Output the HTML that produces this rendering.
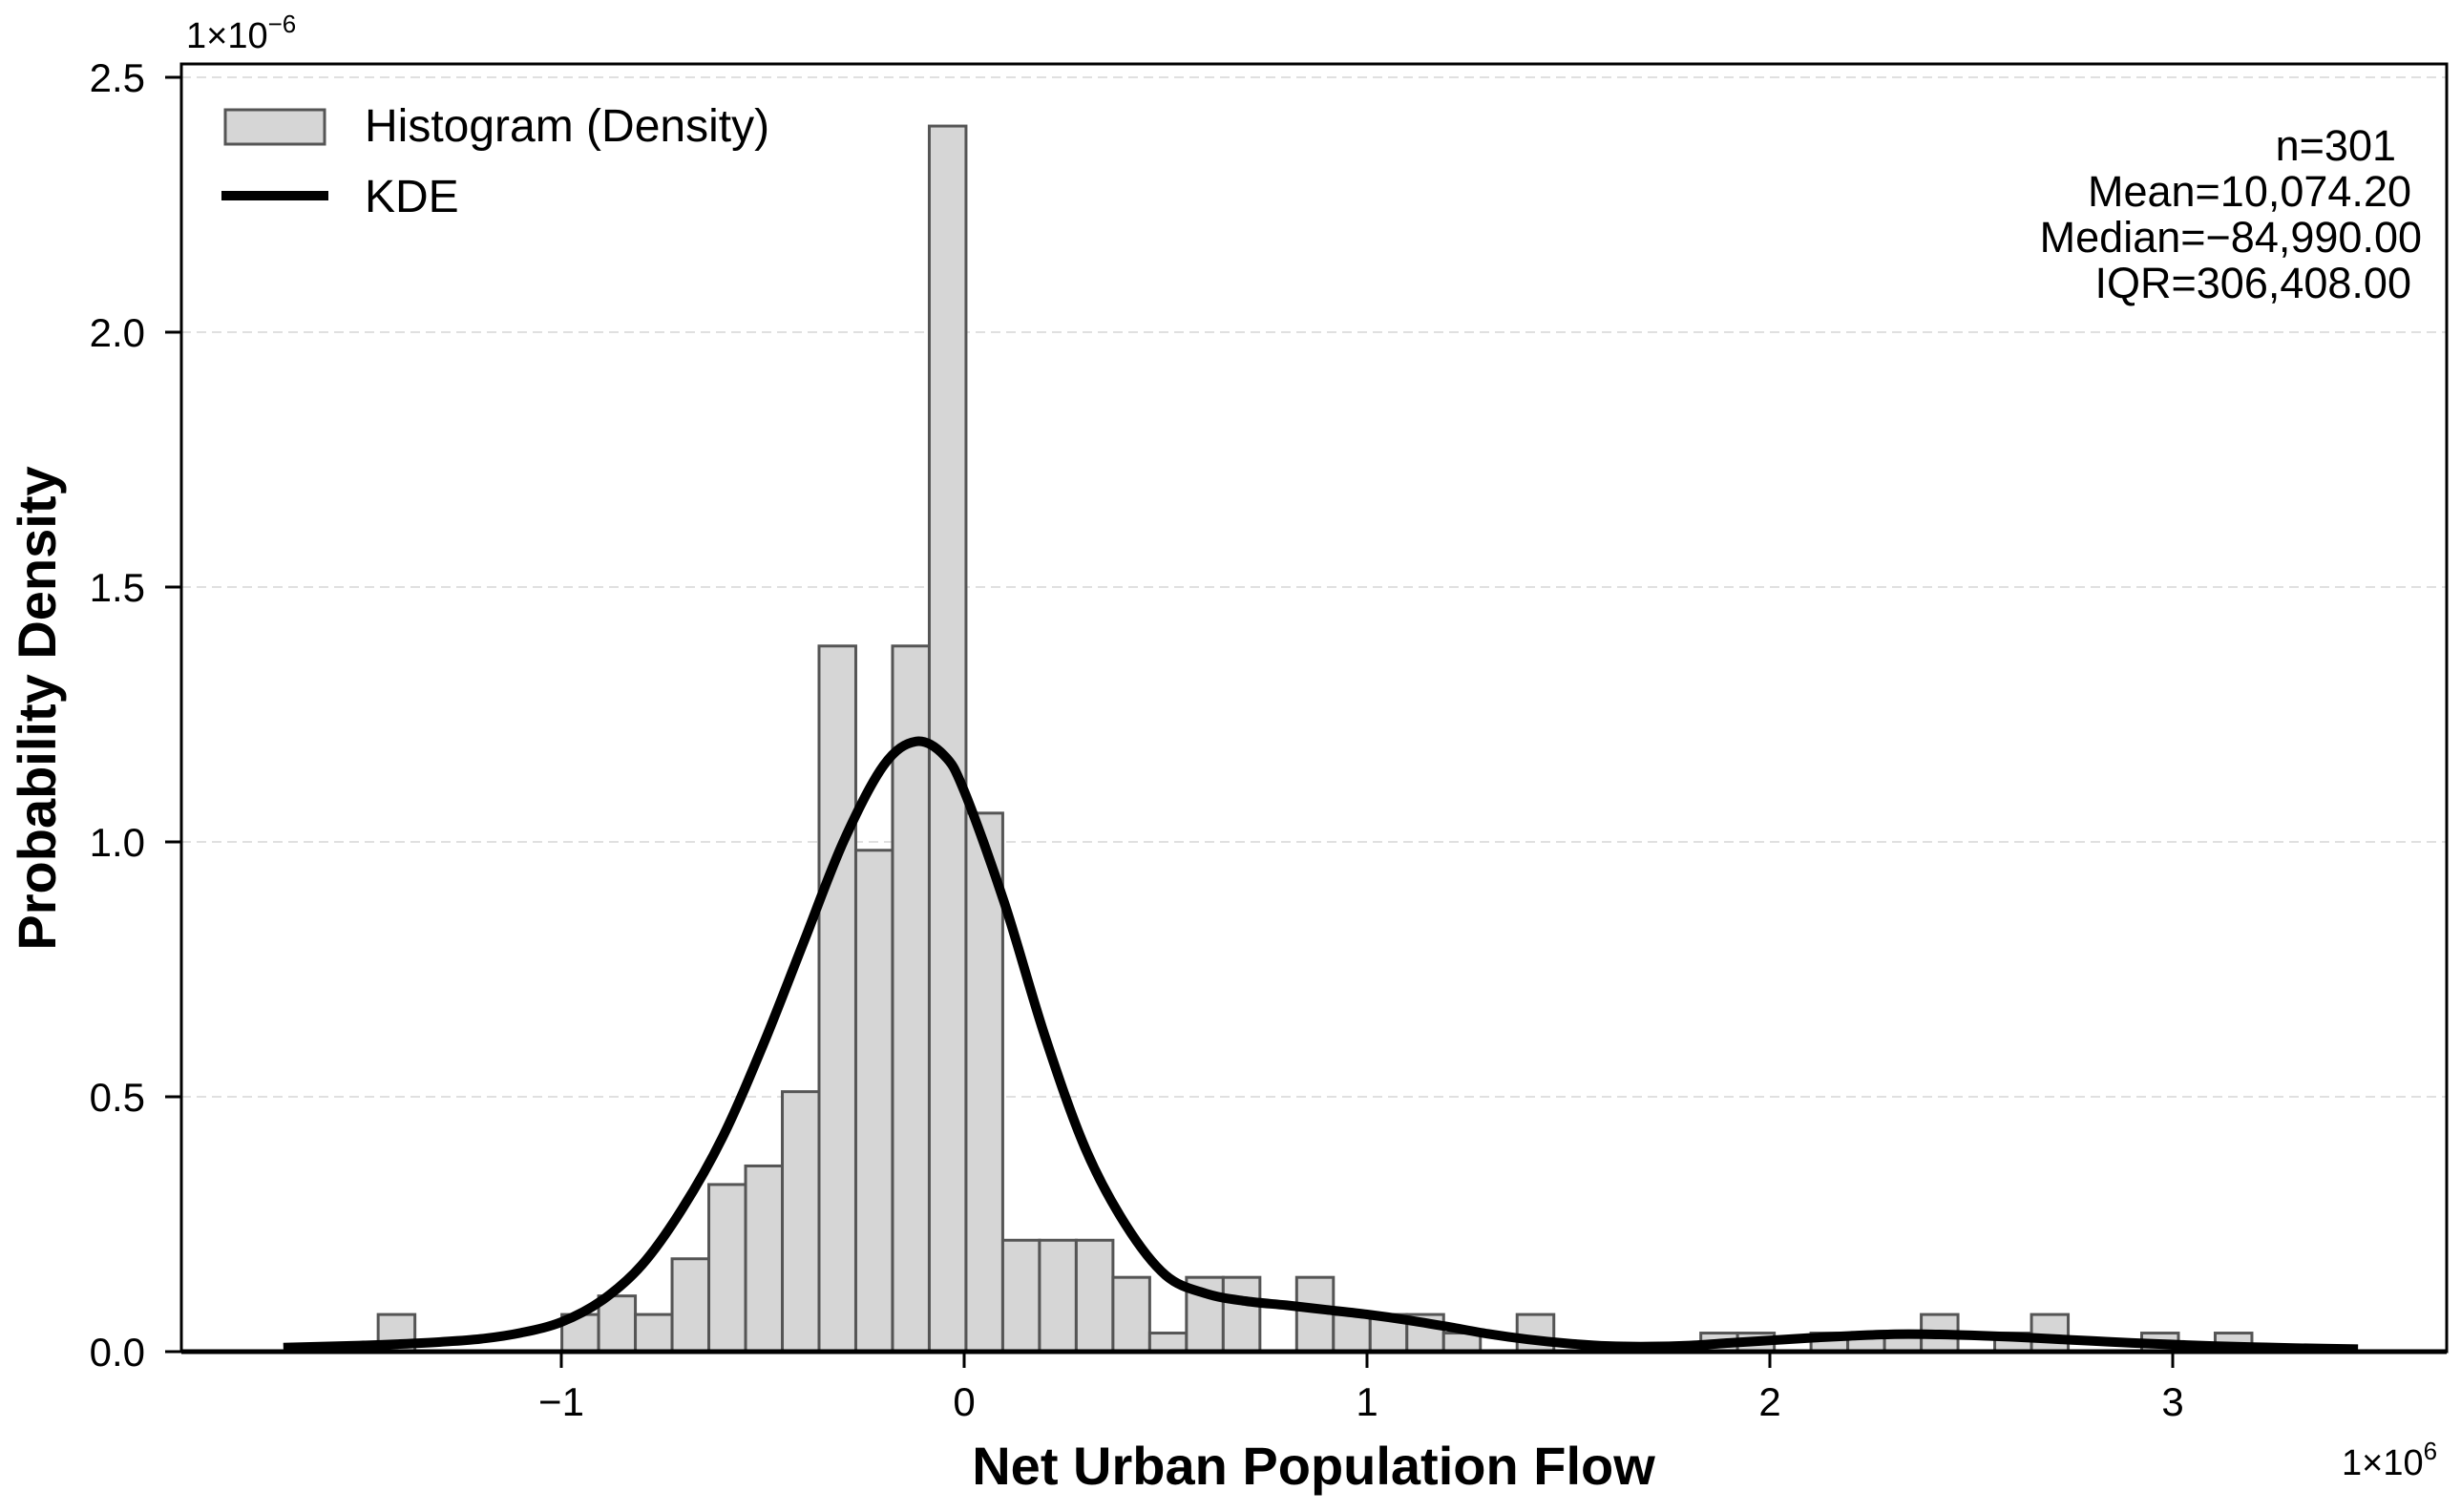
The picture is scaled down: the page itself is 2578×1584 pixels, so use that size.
<!DOCTYPE html>
<html><head><meta charset="utf-8"><style>
html,body{margin:0;padding:0;background:#fff;}
svg{display:block;font-family:"Liberation Sans",Arial,sans-serif;}
</style></head><body>
<svg id="chart" width="2578" height="1584" viewBox="0 0 2578 1584" xmlns="http://www.w3.org/2000/svg">
<rect width="2578" height="1584" fill="#fff"/>
<g id="grid"></g>
<g id="bars"></g>
<g id="kde"></g>
<g id="axes"></g>
<g id="legend">
  <rect x="236" y="115" width="104" height="36" fill="#d6d6d6" stroke="#555" stroke-width="3"/>
  <text x="382" y="148" font-size="48">Histogram (Density)</text>
  <line x1="232" y1="205" x2="344" y2="205" stroke="#000" stroke-width="10"/>
  <text x="382" y="222" font-size="48">KDE</text>
</g>
<g id="stats" font-size="45" text-anchor="end">
  <text x="2510" y="168">n=301</text>
  <text x="2526" y="216">Mean=10,074.20</text>
  <text x="2537" y="264">Median=−84,990.00</text>
  <text x="2526" y="312">IQR=306,408.00</text>
</g>
<text x="195" y="50" font-size="38">1×10<tspan dy="-16" font-size="26">−6</tspan></text>
<text x="2453" y="1545" font-size="38">1×10<tspan dy="-16" font-size="26">6</tspan></text>
<text x="1376" y="1555" font-size="56" font-weight="bold" text-anchor="middle">Net Urban Population Flow</text>
<text transform="translate(58,742) rotate(-90)" font-size="56" font-weight="bold" text-anchor="middle">Probability Density</text>
</svg>
<script>
// Histogram data (x in units of 1e6, density in units of 1e-6)
const binStart = -1.4546;
const binWidth = 0.0912;
const binCounts = [2,0,0,0,0,2,3,2,5,9,10,14,38,27,38,66,29,6,6,6,4,1,4,4,0,4,2,2,2,1,0,2,0,0,0,0,1,1,0,1,1,1,2,0,1,2,0,0,1,0,1];
const densityPerCount = 0.03643;
// KDE curve
const kdeX = [-1.69,-1.5,-1.4,-1.3,-1.2,-1.1,-1.0,-0.9,-0.8,-0.7,-0.6,-0.5,-0.4,-0.3,-0.2,-0.12,-0.05,0.0,0.1,0.2,0.3,0.4,0.5,0.6,0.7,0.8,0.9,1.0,1.1,1.2,1.3,1.4,1.5,1.6,1.7,1.8,1.9,2.0,2.1,2.2,2.3,2.4,2.5,2.6,2.7,2.8,2.9,3.0,3.1,3.2,3.3,3.46];
const kdeY = [0.008,0.012,0.015,0.019,0.025,0.037,0.058,0.1,0.17,0.28,0.42,0.6,0.8,1.0,1.15,1.197,1.17,1.1,0.88,0.62,0.4,0.25,0.15,0.114,0.099,0.091,0.082,0.073,0.062,0.049,0.035,0.024,0.016,0.011,0.01,0.012,0.017,0.022,0.027,0.031,0.034,0.034,0.032,0.029,0.025,0.021,0.017,0.014,0.011,0.009,0.007,0.005];
const xTicks = [-1,0,1,2,3];
const xTickLabels = ["−1","0","1","2","3"];
const yTicks = [0,0.5,1.0,1.5,2.0,2.5];
const yTickLabels = ["0.0","0.5","1.0","1.5","2.0","2.5"];

const L=190, R=2563, T=67, B=1416;
function xs(v){return 1010 + v*422;}
function ys(v){return 1416 - v*534;}
const NS="http://www.w3.org/2000/svg";
function mk(tag, attrs, parent){const e=document.createElementNS(NS,tag);for(const k in attrs)e.setAttribute(k,attrs[k]);parent.appendChild(e);return e;}

const grid=document.getElementById('grid');
yTicks.forEach((t,i)=>{ if(t===0) return;
  const g=mk('line',{x1:L,x2:R,y1:ys(t),y2:ys(t),stroke:'#e0e0e0','stroke-width':2,'stroke-dasharray':'10,6'},grid);
  
  
});

const bars=document.getElementById('bars');
binCounts.forEach((c,i)=>{ if(c===0) return;
  const d=c*densityPerCount;
  const x0=xs(binStart+i*binWidth), x1=xs(binStart+(i+1)*binWidth);
  const r=mk('rect',{x:x0,y:ys(d),width:x1-x0,height:ys(0)-ys(d),fill:'#d6d6d6',stroke:'#555','stroke-width':3},bars);
  
  
});

// smooth KDE path via Catmull-Rom
const pts=kdeX.map((x,i)=>[xs(x),ys(kdeY[i])]);
let d='M'+pts[0][0]+','+pts[0][1];
for(let i=0;i<pts.length-1;i++){
  const p0=pts[Math.max(0,i-1)],p1=pts[i],p2=pts[i+1],p3=pts[Math.min(pts.length-1,i+2)];
  const c1=[p1[0]+(p2[0]-p0[0])/6,p1[1]+(p2[1]-p0[1])/6];
  const c2=[p2[0]-(p3[0]-p1[0])/6,p2[1]-(p3[1]-p1[1])/6];
  d+=' C'+c1[0]+','+c1[1]+' '+c2[0]+','+c2[1]+' '+p2[0]+','+p2[1];
}
const kp=mk('path',{d:d,fill:'none',stroke:'#000','stroke-width':10,'stroke-linejoin':'round'},document.getElementById('kde'));



const axes=document.getElementById('axes');
const frame=mk('rect',{x:L,y:T,width:R-L,height:B-T,fill:'none',stroke:'#000','stroke-width':3},axes);


const xa=mk('line',{x1:L,x2:R,y1:B,y2:B,stroke:'#000','stroke-width':5},axes);


xTicks.forEach((t,i)=>{
  const tk=mk('line',{x1:xs(t),x2:xs(t),y1:B,y2:B+17,stroke:'#000','stroke-width':3},axes);
  
  
  const tx=mk('text',{x:xs(t),y:1483,'font-size':42,'text-anchor':'middle'},axes);
  tx.textContent=xTickLabels[i];
  
  
});
yTicks.forEach((t,i)=>{
  const tk=mk('line',{x1:L-17,x2:L,y1:ys(t),y2:ys(t),stroke:'#000','stroke-width':3},axes);
  
  
  const tx=mk('text',{x:152,y:ys(t)+15,'font-size':42,'text-anchor':'end'},axes);
  tx.textContent=yTickLabels[i];
  
  
});
</script>
</body></html>
